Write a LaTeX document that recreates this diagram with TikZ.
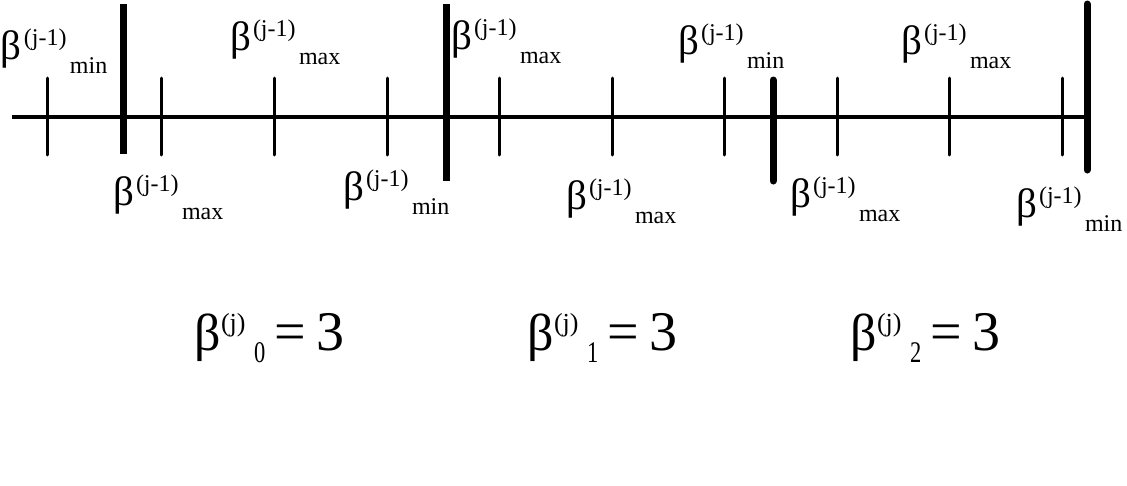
\documentclass[tikz,border=0pt]{standalone}
\usepackage{fontspec}
\setmainfont{Liberation Serif}
\usepackage{graphicx}
\newcommand\lbtext[1]{\makebox[23pt][l]{\fontsize{41}{41}\selectfont β}\makebox[46pt][l]{\raisebox{14pt}{\fontsize{24}{24}\selectfont (j-1)}}\raisebox{-14pt}{\fontsize{24}{24}\selectfont #1}}
\newcommand\eqtext[1]{\makebox[27pt][l]{\fontsize{52}{52}\selectfont β}\makebox[33pt][l]{\raisebox{19pt}{\fontsize{26}{26}\selectfont (j)}}\makebox[20pt][l]{\raisebox{-12pt}{\scalebox{0.75}[1]{\fontsize{30}{30}\selectfont #1}}}\makebox[43pt][l]{\fontsize{56}{56}\selectfont =}{\fontsize{56}{56}\selectfont 3}}
\tikzset{
  lbl/.style={anchor=base west, inner sep=0pt, outer sep=0pt},
  axisline/.style={line width=4pt},
  thintick/.style={line width=3pt, line cap=round},
  thickbar/.style={line width=7pt},
}
\begin{document}
\begin{tikzpicture}[x=1pt,y=-1pt]
\useasboundingbox (0,0) rectangle (1127,485);
% axis
\coordinate (axL) at (12,117);
\coordinate (axR) at (1087,117);
\draw[axisline] (axL) -- (axR);
% thin ticks
\foreach \x in {47,161,274,387,499,612,724,837,949,1062}
  \draw[thintick] (\x,78) -- (\x,155);
% thick bars
\draw[thickbar] (123,4) -- (123,154);
\draw[thickbar] (446,4) -- (446,181);
\draw[thickbar, line cap=round] (773,80) -- (773,181);
\draw[thickbar, line cap=round] (1087,4) -- (1087,170);
% labels above
\node[lbl] (t1) at (1,59) {\lbtext{min}};
\node[lbl] (t2) at (230,50) {\lbtext{max}};
\node[lbl] (t3) at (451,49) {\lbtext{max}};
\node[lbl] (t4) at (678,54) {\lbtext{min}};
\node[lbl] (t5) at (901,54) {\lbtext{max}};
% labels below
\node[lbl] (b1) at (113,205) {\lbtext{max}};
\node[lbl] (b2) at (343,200) {\lbtext{min}};
\node[lbl] (b3) at (566,209) {\lbtext{max}};
\node[lbl] (b4) at (790,207) {\lbtext{max}};
\node[lbl] (b5) at (1016,217) {\lbtext{min}};
% equations
\node[lbl] (e0) at (194,350) {\eqtext{0}};
\node[lbl] (e1) at (527,350) {\eqtext{1}};
\node[lbl] (e2) at (850,350) {\eqtext{2}};
\end{tikzpicture}
\end{document}
